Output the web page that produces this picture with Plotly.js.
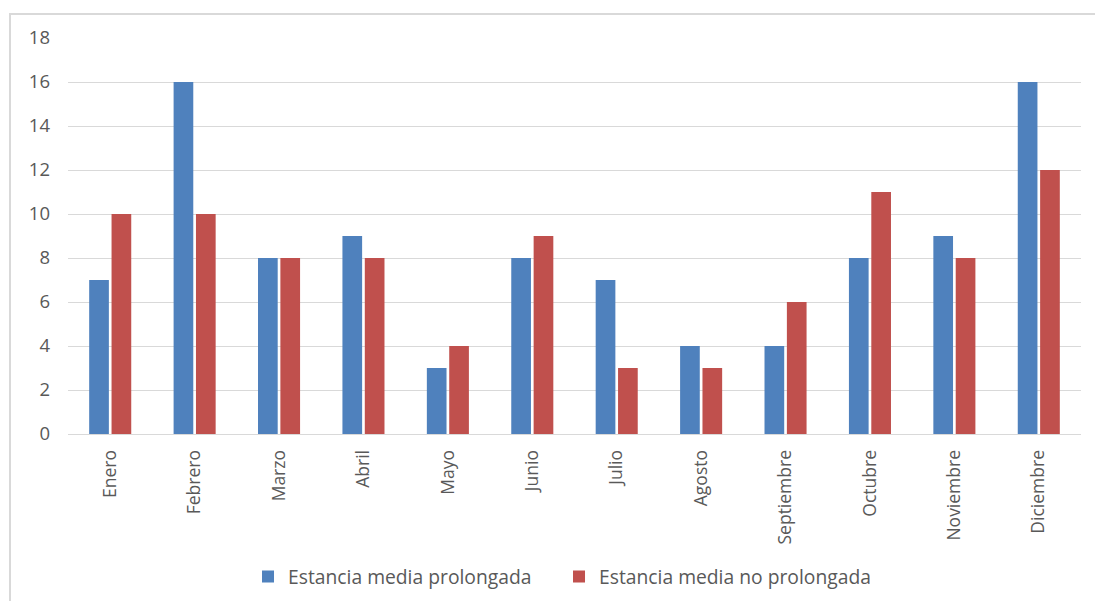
<!DOCTYPE html>
<html>
<head>
<meta charset="utf-8">
<script src="https://cdn.plot.ly/plotly-3.0.1.min.js"></script>
<style>
  html, body { margin: 0; padding: 0; background: #fff; overflow: hidden; }
  #frame { position: absolute; left: 9px; top: 13px; width: 1100px; height: 600px; border: 2px solid #d9d9d9; box-sizing: border-box; }
  #chart { position: absolute; left: 0; top: 0; width: 1095px; height: 601px; }
</style>
</head>
<body>
<div id="frame"></div>
<div id="chart"></div>
<script>
const months = ["Enero", "Febrero", "Marzo", "Abril", "Mayo", "Junio", "Julio", "Agosto", "Septiembre", "Octubre", "Noviembre", "Diciembre"];
const prolongada = [7, 16, 8, 9, 3, 8, 7, 4, 4, 8, 9, 16];
const noProlongada = [10, 10, 8, 8, 4, 9, 3, 3, 6, 11, 8, 12];
const seriesNames = ["Estancia media prolongada", "Estancia media no prolongada"];
const yTicks = [0, 2, 4, 6, 8, 10, 12, 14, 16, 18];

const fontFam = "'Open Sans', 'Noto Sans', sans-serif";
const data = [
  { type: "bar", x: months, y: prolongada, name: seriesNames[0], marker: { color: "#4F81BD" }, hoverinfo: "x+y" },
  { type: "bar", x: months, y: noProlongada, name: seriesNames[1], marker: { color: "#C0504D" }, hoverinfo: "x+y" }
];
const layout = {
  width: 1095, height: 601,
  paper_bgcolor: "rgba(0,0,0,0)", plot_bgcolor: "rgba(0,0,0,0)",
  margin: { l: 68, r: 14, t: 38, b: 167 },
  barmode: "group", bargap: 0.47, bargroupgap: 0.12,
  font: { family: fontFam, size: 16, color: "#595959" },
  xaxis: {
    type: "category", tickangle: -90, showgrid: false, showline: true, automargin: false,
    linecolor: "#d9d9d9", linewidth: 1, ticks: "", ticklen: 0, ticklabelstandoff: 8,
    tickfont: { family: fontFam, size: 17.5, color: "#595959" }
  },
  yaxis: {
    range: [0, 18], tickvals: yTicks, ticktext: yTicks.map(String), automargin: false,
    showgrid: true, gridcolor: "#d9d9d9", gridwidth: 1, zeroline: false,
    showline: false, ticks: "", ticklabelstandoff: 17,
    tickfont: { family: fontFam, size: 18.5, color: "#595959" }
  },
  showlegend: true,
  legend: {
    orientation: "h", x: 0.1777, xanchor: "left", yref: "container", y: 0.04, yanchor: "middle",
    entrywidth: 266, entrywidthmode: "pixels",
    font: { family: fontFam, size: 19.3, color: "#595959" }, itemwidth: 30, traceorder: "normal"
  }
};
Plotly.newPlot("chart", data, layout, { displayModeBar: false, staticPlot: true });
</script>
</body>
</html>
